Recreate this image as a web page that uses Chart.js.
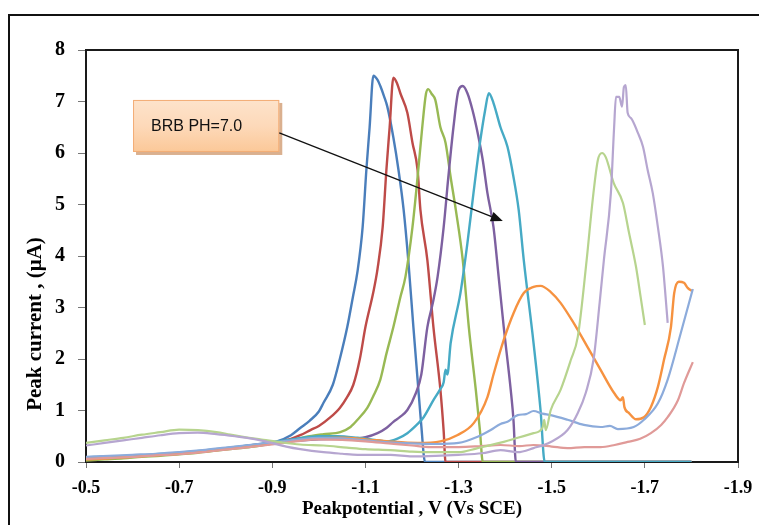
<!DOCTYPE html>
<html><head><meta charset="utf-8">
<script src="https://cdn.jsdelivr.net/npm/chart.js@4.4.0/dist/chart.umd.min.js"></script>
<style>html,body{margin:0;padding:0;background:#fff;}canvas{display:block;}</style>
</head><body>
<canvas id="c" width="759" height="525"></canvas>
<script>
// ---- data (potential V vs SCE, peak current uA) ----
const xTickVals = [-1.9, -1.7, -1.5, -1.3, -1.1, -0.9, -0.7, -0.5];
const yTickVals = [0, 1, 2, 3, 4, 5, 6, 7, 8];
const xTitle = "Peakpotential , V (Vs SCE)";
const yTitle = "Peak current , (\u03BCA)";
const noteText = "BRB PH=7.0";
// annotation anchor points in data units [V, I]
const noteBox = [[-0.601, 7.03], [-0.915, 6.02]];
const arrowFrom = [-0.915, 6.39];
const arrowTo = [-1.395, 4.68];

const s1 = [[-0.50,0.08],[-0.53,0.10],[-0.56,0.09],[-0.60,0.12],[-0.64,0.13],[-0.68,0.16],[-0.72,0.19],[-0.76,0.22],[-0.80,0.26],[-0.84,0.30],[-0.88,0.35],[-0.91,0.40],[-0.94,0.52],[-0.96,0.66],[-0.98,0.80],[-1.00,0.98],[-1.01,1.15],[-1.03,1.50],[-1.045,2.0],[-1.061,2.62],[-1.073,3.2],[-1.083,3.7],[-1.094,4.56],[-1.102,5.67],[-1.109,6.5],[-1.117,7.50],[-1.126,7.42],[-1.132,7.30],[-1.140,7.10],[-1.147,6.90],[-1.160,6.30],[-1.171,5.67],[-1.182,4.9],[-1.192,3.92],[-1.203,2.62],[-1.212,1.60],[-1.220,0.7],[-1.228,0],[-1.80,0]];
const s2 = [[-0.50,0.06],[-0.54,0.08],[-0.58,0.10],[-0.62,0.12],[-0.66,0.14],[-0.70,0.17],[-0.74,0.20],[-0.78,0.24],[-0.82,0.28],[-0.86,0.33],[-0.90,0.37],[-0.94,0.45],[-0.96,0.52],[-0.982,0.62],[-1.00,0.70],[-1.025,0.87],[-1.045,1.05],[-1.060,1.25],[-1.074,1.50],[-1.088,2.0],[-1.100,2.62],[-1.117,3.3],[-1.126,3.75],[-1.137,4.56],[-1.145,5.67],[-1.152,6.5],[-1.160,7.46],[-1.168,7.35],[-1.175,7.16],[-1.190,6.78],[-1.201,6.2],[-1.212,5.67],[-1.218,4.9],[-1.233,3.92],[-1.246,2.62],[-1.261,1.4],[-1.268,0.6],[-1.272,0],[-1.80,0]];
const s3 = [[-0.50,0.03],[-0.54,0.05],[-0.58,0.07],[-0.62,0.10],[-0.66,0.12],[-0.70,0.15],[-0.74,0.18],[-0.78,0.22],[-0.82,0.26],[-0.86,0.30],[-0.90,0.36],[-0.94,0.42],[-0.98,0.50],[-1.01,0.54],[-1.046,0.58],[-1.068,0.68],[-1.083,0.82],[-1.104,1.05],[-1.118,1.3],[-1.132,1.6],[-1.145,2.1],[-1.160,2.62],[-1.175,3.2],[-1.186,3.6],[-1.201,4.56],[-1.212,5.53],[-1.222,6.5],[-1.230,7.15],[-1.235,7.24],[-1.242,7.15],[-1.250,7.03],[-1.261,6.5],[-1.272,6.2],[-1.283,5.53],[-1.294,4.9],[-1.309,3.92],[-1.322,2.62],[-1.337,1.4],[-1.346,0.6],[-1.352,0],[-1.80,0]];
const s4 = [[-0.50,0.07],[-0.55,0.09],[-0.60,0.11],[-0.65,0.14],[-0.70,0.17],[-0.75,0.21],[-0.80,0.26],[-0.85,0.31],[-0.90,0.36],[-0.95,0.41],[-1.00,0.44],[-1.04,0.45],[-1.068,0.44],[-1.10,0.48],[-1.126,0.56],[-1.145,0.66],[-1.160,0.78],[-1.175,0.88],[-1.190,1.01],[-1.208,1.33],[-1.220,1.7],[-1.233,2.62],[-1.245,3.1],[-1.255,3.6],[-1.268,4.56],[-1.278,5.53],[-1.289,6.5],[-1.300,7.22],[-1.309,7.30],[-1.319,7.16],[-1.330,6.83],[-1.341,6.39],[-1.352,5.86],[-1.362,5.22],[-1.375,4.56],[-1.386,3.6],[-1.397,2.62],[-1.412,1.4],[-1.418,0.8],[-1.423,0],[-1.80,0]];
const s5 = [[-0.50,0.09],[-0.55,0.11],[-0.60,0.12],[-0.65,0.15],[-0.70,0.18],[-0.75,0.22],[-0.80,0.27],[-0.85,0.32],[-0.90,0.38],[-0.95,0.45],[-1.00,0.50],[-1.04,0.50],[-1.083,0.47],[-1.12,0.43],[-1.147,0.40],[-1.17,0.46],[-1.190,0.56],[-1.210,0.72],[-1.225,0.87],[-1.246,1.2],[-1.261,1.42],[-1.268,1.55],[-1.272,1.79],[-1.276,1.70],[-1.283,2.31],[-1.304,3.28],[-1.319,4.25],[-1.332,5.22],[-1.346,6.2],[-1.357,6.83],[-1.365,7.16],[-1.375,6.97],[-1.390,6.5],[-1.405,6.12],[-1.418,5.53],[-1.429,4.9],[-1.440,3.92],[-1.461,2.31],[-1.476,1.01],[-1.485,0],[-1.80,0]];
const s6 = [[-0.50,0.05],[-0.55,0.07],[-0.60,0.10],[-0.65,0.13],[-0.70,0.16],[-0.75,0.20],[-0.80,0.25],[-0.85,0.30],[-0.90,0.36],[-0.95,0.42],[-1.00,0.46],[-1.05,0.47],[-1.10,0.44],[-1.15,0.40],[-1.212,0.37],[-1.261,0.40],[-1.297,0.52],[-1.333,0.76],[-1.362,1.26],[-1.375,1.70],[-1.397,2.37],[-1.418,2.89],[-1.440,3.28],[-1.461,3.40],[-1.476,3.42],[-1.498,3.30],[-1.519,3.09],[-1.547,2.70],[-1.577,2.23],[-1.605,1.79],[-1.634,1.34],[-1.648,1.20],[-1.653,1.26],[-1.656,1.07],[-1.666,0.95],[-1.681,0.83],[-1.698,0.87],[-1.713,1.07],[-1.728,1.46],[-1.741,1.98],[-1.756,2.62],[-1.763,3.28],[-1.773,3.50],[-1.784,3.48],[-1.792,3.38],[-1.801,3.32]];
const s7 = [[-0.50,0.10],[-0.55,0.12],[-0.60,0.14],[-0.65,0.16],[-0.70,0.19],[-0.75,0.23],[-0.80,0.28],[-0.85,0.33],[-0.90,0.38],[-0.95,0.43],[-1.00,0.47],[-1.05,0.46],[-1.10,0.42],[-1.15,0.38],[-1.20,0.36],[-1.25,0.35],[-1.30,0.37],[-1.341,0.49],[-1.369,0.62],[-1.390,0.74],[-1.405,0.78],[-1.427,0.91],[-1.445,0.93],[-1.461,0.99],[-1.48,0.94],[-1.498,0.91],[-1.534,0.82],[-1.569,0.72],[-1.605,0.68],[-1.625,0.70],[-1.642,0.64],[-1.676,0.68],[-1.698,0.82],[-1.728,1.14],[-1.749,1.60],[-1.777,2.5],[-1.803,3.36]];
const s8 = [[-0.50,0.06],[-0.55,0.08],[-0.60,0.10],[-0.65,0.13],[-0.70,0.15],[-0.75,0.19],[-0.80,0.24],[-0.85,0.29],[-0.90,0.34],[-0.95,0.40],[-1.00,0.44],[-1.05,0.43],[-1.10,0.40],[-1.15,0.36],[-1.20,0.32],[-1.24,0.29],[-1.30,0.29],[-1.35,0.31],[-1.39,0.33],[-1.43,0.31],[-1.461,0.33],[-1.50,0.30],[-1.534,0.27],[-1.57,0.29],[-1.605,0.29],[-1.635,0.33],[-1.663,0.39],[-1.690,0.45],[-1.713,0.56],[-1.735,0.72],[-1.749,0.87],[-1.771,1.20],[-1.784,1.53],[-1.803,1.94]];
const s9 = [[-0.50,0.37],[-0.54,0.42],[-0.58,0.47],[-0.62,0.53],[-0.66,0.58],[-0.70,0.63],[-0.74,0.62],[-0.78,0.58],[-0.81,0.53],[-0.85,0.47],[-0.881,0.43],[-0.92,0.38],[-0.96,0.34],[-1.01,0.32],[-1.06,0.28],[-1.10,0.25],[-1.154,0.23],[-1.20,0.20],[-1.25,0.19],[-1.30,0.19],[-1.341,0.27],[-1.397,0.39],[-1.427,0.47],[-1.461,0.56],[-1.480,0.66],[-1.484,0.82],[-1.487,0.62],[-1.498,1.01],[-1.519,1.40],[-1.541,1.98],[-1.556,2.43],[-1.575,3.92],[-1.588,5.09],[-1.599,5.86],[-1.608,6.0],[-1.616,5.92],[-1.633,5.42],[-1.653,5.03],[-1.666,4.45],[-1.681,3.79],[-1.691,3.2],[-1.700,2.66]];
const s10 = [[-0.50,0.32],[-0.54,0.37],[-0.58,0.42],[-0.62,0.47],[-0.66,0.52],[-0.70,0.56],[-0.74,0.57],[-0.78,0.54],[-0.82,0.50],[-0.846,0.47],[-0.88,0.41],[-0.902,0.36],[-0.93,0.30],[-0.96,0.25],[-1.01,0.19],[-1.05,0.16],[-1.083,0.14],[-1.154,0.14],[-1.20,0.11],[-1.25,0.12],[-1.30,0.14],[-1.35,0.17],[-1.39,0.23],[-1.427,0.19],[-1.461,0.27],[-1.498,0.39],[-1.534,0.62],[-1.556,0.95],[-1.573,1.34],[-1.590,2.0],[-1.603,3.1],[-1.612,3.92],[-1.627,5.22],[-1.634,6.5],[-1.638,7.09],[-1.645,7.09],[-1.651,6.90],[-1.655,7.28],[-1.659,7.32],[-1.663,6.78],[-1.670,6.68],[-1.685,6.39],[-1.696,6.12],[-1.706,5.67],[-1.717,5.22],[-1.728,4.56],[-1.739,3.79],[-1.745,3.15],[-1.749,2.70]];

const seriesList = [s1, s2, s3, s4, s5, s6, s7, s8, s9, s10];
const seriesColors = ['#4a7ebb','#be4b48','#98b954','#7d60a0','#46aac5','#f69240','#8cabdb','#e09a98','#b7d48e','#b6a6d0'];
const seriesWidths = [2.4,2.4,2.4,2.4,2.4,2.4,2.2,2.2,2.2,2.2];

const datasets = seriesList.map((s, i) => ({
  data: s.map(p => ({x: p[0], y: p[1]})),
  borderColor: seriesColors[i],
  borderWidth: seriesWidths[i],
  pointRadius: 0,
  cubicInterpolationMode: 'monotone',
  fill: false,
  order: 20 - i
}));

const serif = "'Liberation Serif', 'Times New Roman', serif";

const decor = {
  id: 'decor',
  beforeDraw(chart) {
    const ctx = chart.ctx;
    ctx.save();
    ctx.fillStyle = '#fff';
    ctx.fillRect(0, 0, chart.width, chart.height);
    ctx.strokeStyle = '#111';
    ctx.lineWidth = 2;
    ctx.beginPath();
    ctx.moveTo(9, chart.height + 2);
    ctx.lineTo(9, 15);
    ctx.lineTo(chart.width + 2, 15);
    ctx.stroke();
    ctx.restore();
  },
  beforeDatasetsDraw(chart) {
    const ctx = chart.ctx, a = chart.chartArea;
    ctx.save();
    ctx.strokeStyle = '#1a1a1a';
    ctx.lineWidth = 2;
    ctx.strokeRect(a.left, a.top, a.right - a.left, a.bottom - a.top);
    ctx.restore();
  },
  afterDraw(chart) {
    const ctx = chart.ctx, xs = chart.scales.x, ys = chart.scales.y;
    ctx.save();
    ctx.font = "bold 21px " + serif;
    ctx.fillStyle = '#000';
    ctx.textAlign = 'center';
    ctx.textBaseline = 'middle';
    ctx.translate(36, 324);
    ctx.rotate(-Math.PI / 2);
    ctx.fillText(yTitle, 0, 0);
    ctx.restore();

    const bx1 = xs.getPixelForValue(noteBox[0][0]), by1 = ys.getPixelForValue(noteBox[0][1]);
    const bx2 = xs.getPixelForValue(noteBox[1][0]), by2 = ys.getPixelForValue(noteBox[1][1]);
    ctx.save();
    ctx.fillStyle = 'rgba(205,150,105,0.75)';
    ctx.fillRect(bx1 + 3, by1 + 3, bx2 - bx1, by2 - by1);
    const g = ctx.createLinearGradient(0, by1, 0, by2);
    g.addColorStop(0, '#fde3cb');
    g.addColorStop(0.5, '#fdd9b9');
    g.addColorStop(1, '#fbc898');
    ctx.fillStyle = g;
    ctx.fillRect(bx1, by1, bx2 - bx1, by2 - by1);
    ctx.strokeStyle = '#f3ad76';
    ctx.lineWidth = 1;
    ctx.strokeRect(bx1 + 0.5, by1 + 0.5, bx2 - bx1 - 1, by2 - by1 - 1);
    ctx.fillStyle = '#111';
    ctx.font = "16px 'Liberation Sans', Arial, sans-serif";
    ctx.textAlign = 'left';
    ctx.textBaseline = 'middle';
    ctx.fillText(noteText, bx1 + 18, (by1 + by2) / 2 + 1);
    ctx.restore();

    const ax1 = xs.getPixelForValue(arrowFrom[0]), ay1 = ys.getPixelForValue(arrowFrom[1]);
    const ax2 = xs.getPixelForValue(arrowTo[0]), ay2 = ys.getPixelForValue(arrowTo[1]);
    const ang = Math.atan2(ay2 - ay1, ax2 - ax1);
    const hl = 12, hw = 5;
    ctx.save();
    ctx.strokeStyle = '#111';
    ctx.fillStyle = '#111';
    ctx.lineWidth = 1.3;
    ctx.beginPath();
    ctx.moveTo(ax1, ay1);
    ctx.lineTo(ax2 - hl * Math.cos(ang), ay2 - hl * Math.sin(ang));
    ctx.stroke();
    ctx.beginPath();
    ctx.moveTo(ax2, ay2);
    ctx.lineTo(ax2 - hl * Math.cos(ang) + hw * Math.sin(ang), ay2 - hl * Math.sin(ang) - hw * Math.cos(ang));
    ctx.lineTo(ax2 - hl * Math.cos(ang) - hw * Math.sin(ang), ay2 - hl * Math.sin(ang) + hw * Math.cos(ang));
    ctx.closePath();
    ctx.fill();
    ctx.restore();
  }
};

new Chart(document.getElementById('c'), {
  type: 'line',
  data: { datasets },
  options: {
    responsive: false,
    animation: false,
    devicePixelRatio: 1,
    layout: { padding: { top: 50, right: 21, left: 0, bottom: 0 } },
    plugins: { legend: { display: false }, tooltip: { enabled: false } },
    scales: {
      x: {
        type: 'linear',
        min: -1.9, max: -0.5,
        reverse: true,
        afterFit: s => { s.height = 63; },
        afterBuildTicks: s => { s.ticks = xTickVals.map(v => ({ value: v })); },
        grid: { display: true, drawOnChartArea: false, drawTicks: true, tickLength: 6, color: '#777', lineWidth: 1 },
        border: { display: true, color: '#1a1a1a', width: 2 },
        ticks: { color: '#000', padding: 10, maxRotation: 0, autoSkip: false,
          font: { family: serif, size: 18, weight: 'bold' },
          callback: v => Number(v).toFixed(1) },
        title: { display: true, text: xTitle, color: '#000', padding: { top: 0, bottom: 5 },
          font: { family: serif, size: 19, weight: 'bold' } }
      },
      y: {
        type: 'linear',
        min: 0, max: 8,
        afterFit: s => { s.width = 86; },
        afterBuildTicks: s => { s.ticks = yTickVals.map(v => ({ value: v })); },
        grid: { display: true, drawOnChartArea: false, drawTicks: true, tickLength: 8, color: '#777', lineWidth: 1 },
        border: { display: true, color: '#1a1a1a', width: 2 },
        ticks: { color: '#000', padding: 13, autoSkip: false,
          font: { family: serif, size: 20, weight: 'bold' },
          callback: v => String(v) }
      }
    }
  },
  plugins: [decor]
});
</script>
</body></html>
